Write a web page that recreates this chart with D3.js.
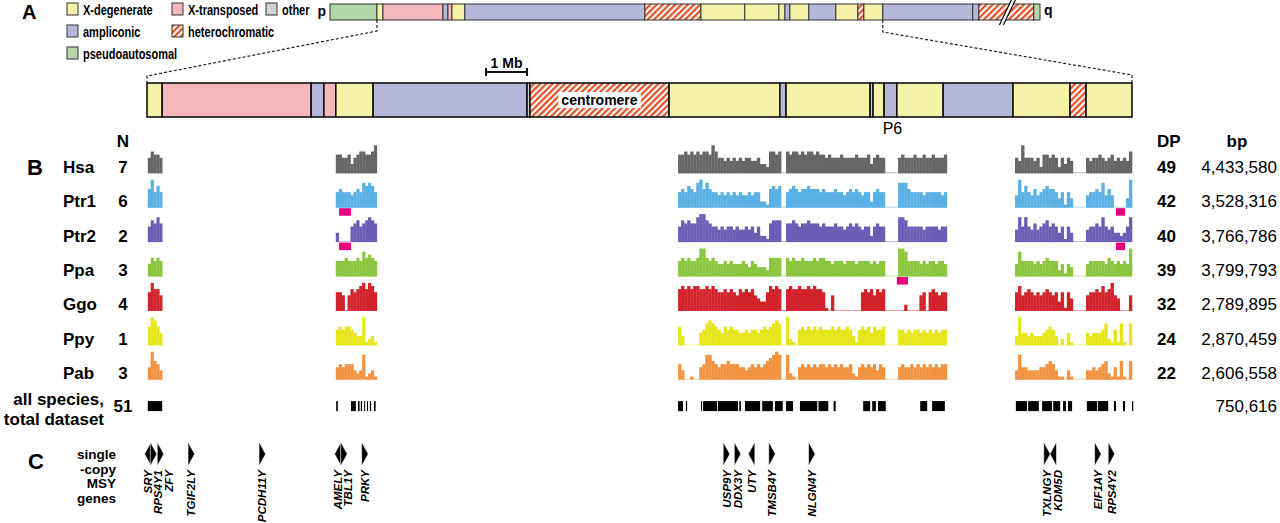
<!DOCTYPE html>
<html>
<head>
<meta charset="utf-8">
<script src="https://cdn.jsdelivr.net/npm/d3@7"></script>
<style>
body { margin: 0; background: #fff; }
svg { display: block; font-family: "Liberation Sans", Arial, Helvetica, sans-serif; }
</style>
</head>
<body>
<svg id="fig" width="1280" height="523"></svg>
<script>
// ---- data ----
const legendTypes = ["X-degenerate", "X-transposed", "other", "ampliconic", "heterochromatic", "pseudoautosomal"];

// whole Y chromosome overview (approx. Mb, heterochromatin compressed)
const ovBounds = [0, 3.77, 4.25, 9.07, 9.47, 9.79, 10.83, 25.28, 29.78, 33.3, 36.04, 36.52, 36.92, 38.44, 40.61, 42.38, 42.86, 44.38, 51.6, 52.09, 56.5, 57.0];
const ovTypes = ["pseudoautosomal", "X-degenerate", "X-transposed", "ampliconic", "X-transposed", "X-degenerate", "ampliconic",
  "heterochromatic", "X-degenerate", "X-degenerate", "X-degenerate", "ampliconic", "X-degenerate", "ampliconic", "X-degenerate",
  "heterochromatic", "X-degenerate", "ampliconic", "ampliconic", "heterochromatic", "pseudoautosomal"];
const zoomFrom = 3.77, zoomTo = 44.38, breakAt = 54.3;

// expanded MSY region (Mb)
const detBounds = [0, 0.37, 4.0, 4.31, 4.6, 5.51, 9.26, 9.33, 12.72, 15.42, 15.57, 17.62, 17.69, 17.96, 18.27, 19.4, 21.1, 22.49, 22.88, 24.0];
const detTypes = ["X-degenerate", "X-transposed", "ampliconic", "X-transposed", "X-degenerate", "ampliconic", "other",
  "heterochromatic", "X-degenerate", "ampliconic", "X-degenerate", "other", "X-degenerate", "ampliconic", "X-degenerate",
  "ampliconic", "X-degenerate", "heterochromatic", "X-degenerate"];
const scaleBarEnd = 9.26;
const p6Start = 17.96, p6End = 18.27;

// species rows
const species = ["Hsa", "Ptr1", "Ptr2", "Ppa", "Ggo", "Ppy", "Pab"];
const nSamples = [7, 6, 2, 3, 4, 1, 3];
const dpCounts = [49, 42, 40, 39, 32, 24, 22];
const bpTotals = [4433580, 3528316, 3766786, 3799793, 2789895, 2870459, 2606558];
const allN = 51, allBp = 750616;

// coverage regions (Mb); each string = binned depth, 0-9
const covStart = [0.02, 4.6, 12.94, 15.57, 18.3, 21.15, 22.88];
const covEnd = [0.37, 5.6, 15.45, 17.98, 19.49, 22.56, 24.0];

const covHsa = ["57665", "66556356776679",
  "6676767677697" + "55454545455445332" + "7767",
  "7677676776766" + "56555655556555635655",
  "5655565565565556", "549555452" + "66565" + "25354", "545565456454547"];
const covPtr1 = ["69575", "56555456587875",
  "5657658968655" + "45454545445455221" + "6767",
  "5676566766656" + "55565545656545525655",
  "8886555545555545", "495754645" + "67665" + "35153", "455658464" + "0000" + "39"];
const covPtr2 = ["57686", "3" + "0000" + "567567876",
  "5767668997655" + "45455454454535221" + "6777",
  "6676566766656" + "55565545656545525655",
  "8875555545555455", "485854645" + "67565" + "35153", "455658545" + "3323" + "58"];
const covPpa = ["46565", "55565556586765",
  "5656556996565" + "44545444543543332" + "6666",
  "6565565556566" + "55455545554555545455",
  "9985555454554554", "485555454" + "56555" + "24143", "455555465" + "4545" + "49"];
const covGgo = ["69775", "66505767897986",
  "7878788778787" + "66767657676754336" + "8787",
  "7877877878776" + "105" + "000000000" + "67675767",
  "0020000560676566", "685676565" + "67656" + "36164", "566768679" + "5400" + "05"];
const covPpy = ["69864", "565665" + "433" + "9" + "1231",
  "63" + "00000" + "45787654656554" + "454554565" + "6787",
  "9210" + "565656565556565565" + "31" + "565646556",
  "5545455454545455", "394434333" + "45653" + "02041", "4344" + "457" + "215" + "17" + "10" + "7"];
const covPab = ["49653", "454555" + "323" + "8" + "1231",
  "53" + "00100" + "45886545565554" + "434545456" + "7898",
  "8210" + "454545455454545445" + "21" + "454545354",
  "4544545454545455", "384433334" + "45653" + "11031", "3343" + "456" + "214" + "16" + "10" + "6"];
const coverage = [covHsa, covPtr1, covPtr2, covPpa, covGgo, covPpy, covPab];

// deletions (magenta boxes)
const delSpecies = ["Ptr1", "Ptr2", "Ptr1", "Ptr2", "Ppa"];
const delStart = [4.68, 4.68, 23.61, 23.61, 18.27];
const delEnd = [4.97, 4.97, 23.83, 23.83, 18.54];

// total dataset segments (Mb)
const dsStart = [0.02, 4.61, 4.97, 5.14, 5.21, 5.29, 5.36, 5.43, 5.53, 12.94, 13.13, 13.5, 13.55, 13.91, 14.43, 14.57, 14.99, 15.3,
  15.57, 15.91, 16.36, 16.73, 17.45, 17.67, 17.81, 18.84, 19.13, 21.17, 21.47, 21.81, 22.08, 22.32, 22.44, 22.9, 23.17, 23.56, 23.78, 24.0];
const dsEnd = [0.37, 4.65, 5.09, 5.18, 5.24, 5.31, 5.38, 5.46, 5.57, 13.06, 13.16, 13.52, 13.89, 14.4, 14.47, 14.94, 15.25, 15.49,
  15.74, 16.33, 16.6, 16.78, 17.62, 17.76, 18.0, 19.01, 19.44, 21.44, 21.73, 22.05, 22.25, 22.39, 22.54, 23.15, 23.42, 23.61, 23.83, 24.03];

// single-copy MSY genes
const geneNames = ["SRY", "RPS4Y1", "ZFY", "TGIF2LY", "PCDH11Y", "AMELY", "TBL1Y", "PRKY", "USP9Y", "DDX3Y", "UTY", "TMSB4Y",
  "NLGN4Y", "TXLNGY", "KDM5D", "EIF1AY", "RPS4Y2"];
const genePos = [0.02, 0.16, 0.33, 1.08, 2.81, 4.65, 4.8, 5.31, 14.12, 14.39, 14.73, 15.23, 16.2, 21.93, 22.08, 23.17, 23.5];
const geneStrand = ["-", "+", "+", "+", "+", "-", "+", "+", "+", "+", "-", "+", "+", "+", "-", "+", "+"];

// ---- styles ----
const typeColor = {
  "X-degenerate": "#f4f1a8", "X-transposed": "#f4b7bc", "other": "#d2d2d2",
  "ampliconic": "#b4b7d7", "pseudoautosomal": "#b4d6ad"
};
const speciesColor = {
  Hsa: "#666666", Ptr1: "#5bb0e4", Ptr2: "#6a5fb4", Ppa: "#8cc63f",
  Ggo: "#d2232a", Ppy: "#e6e61c", Pab: "#f29341"
};
const fillFor = t => t === "heterochromatic" ? "url(#hatch)" : typeColor[t];

// ---- scales ----
const xOv = d3.scaleLinear().domain([0, 57]).range([330, 1040]);
const xDet = d3.scaleLinear().domain([0, 24]).range([147, 1132]);
const rowY = d3.scalePoint().domain(species).range([173.3, 379.7]);
const allY = rowY("Pab") + rowY.step();
const hY = d3.scaleLinear().domain([0, 9]).range([0, 28]);

const svg = d3.select("#fig");
const defs = svg.append("defs");
const pat = defs.append("pattern").attr("id", "hatch")
  .attr("patternUnits", "userSpaceOnUse")
  .attr("width", 4.4).attr("height", 4.4)
  .attr("patternTransform", "rotate(45)");
pat.append("rect").attr("width", 4.4).attr("height", 4.4).attr("fill", "#fff");
pat.append("rect").attr("width", 2.3).attr("height", 4.4).attr("fill", "#e2562d");

function panelLetter(t, x, y, size) {
  svg.append("text").attr("x", x).attr("y", y).attr("font-size", size).attr("font-weight", "bold").text(t);
}
panelLetter("A", 22, 19, 20);
panelLetter("B", 27, 175, 22);
panelLetter("C", 28, 469, 22);

// ---- legend ----
const legCol = [67, 172, 266], legRow = [3, 25, 47];
const legPos = [[0, 0], [1, 0], [2, 0], [0, 1], [1, 1], [0, 2]];
const leg = svg.append("g").selectAll("g").data(legendTypes).join("g")
  .attr("transform", (d, i) => `translate(${legCol[legPos[i][0]]},${legRow[legPos[i][1]]})`);
leg.append("rect").attr("width", 11).attr("height", 12)
  .attr("fill", d => fillFor(d)).attr("stroke", "#333").attr("stroke-width", 1);
leg.append("text").attr("transform", "translate(16,11.5) scale(0.76,1)")
  .attr("font-size", 14.5).attr("font-weight", "bold").text(d => d);

// ---- overview chromosome ----
const ov = svg.append("g");
ov.selectAll("rect").data(ovTypes).join("rect")
  .attr("x", (d, i) => xOv(ovBounds[i]))
  .attr("width", (d, i) => xOv(ovBounds[i + 1]) - xOv(ovBounds[i]))
  .attr("y", 4).attr("height", 16)
  .attr("fill", d => fillFor(d)).attr("stroke", "#333").attr("stroke-width", 1);
ov.append("text").attr("x", xOv(0) - 4).attr("y", 16).attr("text-anchor", "end")
  .attr("font-size", 14).attr("font-weight", "bold").text("p");
ov.append("text").attr("x", xOv(57) + 4).attr("y", 15).attr("font-size", 14).attr("font-weight", "bold").text("q");
const bx = xOv(breakAt);
ov.append("path").attr("d", `M${bx - 7},25 L${bx + 5},0 L${bx + 9},0 L${bx - 3},25 Z`).attr("fill", "#fff");
ov.append("path").attr("d", `M${bx - 7},25 L${bx + 5},0 M${bx - 3},25 L${bx + 9},0`)
  .attr("stroke", "#111").attr("stroke-width", 1.3);

// zoom connectors
svg.append("path")
  .attr("d", `M${xOv(zoomFrom)},20 V31 L${xDet(0)},76 V83 M${xOv(zoomTo)},20 V32 L${xDet(24)},75 V83`)
  .attr("fill", "none").attr("stroke", "#222").attr("stroke-width", 1.2).attr("stroke-dasharray", "3,2");

// ---- expanded region ----
const det = svg.append("g");
det.selectAll("rect").data(detTypes).join("rect")
  .attr("x", (d, i) => xDet(detBounds[i]))
  .attr("width", (d, i) => xDet(detBounds[i + 1]) - xDet(detBounds[i]))
  .attr("y", 83).attr("height", 34)
  .attr("fill", d => fillFor(d)).attr("stroke", "#111").attr("stroke-width", 1.6);

const ci = detTypes.indexOf("heterochromatic");
const cx = xDet((detBounds[ci] + detBounds[ci + 1]) / 2);
const cBox = det.append("rect").attr("fill", "#fff");
const cTxt = det.append("text").attr("x", cx).attr("y", 105).attr("text-anchor", "middle")
  .attr("font-size", 14).attr("font-weight", "bold").text("centromere");
const bb = cTxt.node().getBBox();
cBox.attr("x", bb.x - 3).attr("y", bb.y).attr("width", bb.width + 6).attr("height", bb.height);

det.append("path")
  .attr("d", `M${xDet(scaleBarEnd - 1)},68 V76 M${xDet(scaleBarEnd - 1)},72 H${xDet(scaleBarEnd)} M${xDet(scaleBarEnd)},68 V76`)
  .attr("stroke", "#111").attr("stroke-width", 2).attr("fill", "none");
det.append("text").attr("x", xDet(scaleBarEnd - 0.5)).attr("y", 68).attr("text-anchor", "middle")
  .attr("font-size", 14).attr("font-weight", "bold").text("1 Mb");
det.append("text").attr("x", xDet((p6Start + p6End) / 2) + 2).attr("y", 134).attr("text-anchor", "middle")
  .attr("font-size", 16).text("P6");

// ---- coverage tracks ----
const tracks = svg.append("g");
const spans = [];
covStart.forEach((s, r) => {
  const last = spans[spans.length - 1];
  if (last && s - last[1] < 1) last[1] = covEnd[r]; else spans.push([s, covEnd[r]]);
});
species.forEach(sp => {
  tracks.append("g").selectAll("line").data(spans).join("line")
    .attr("x1", d => xDet(d[0])).attr("x2", d => xDet(d[1]))
    .attr("y1", rowY(sp) - 0.5).attr("y2", rowY(sp) - 0.5)
    .attr("stroke", speciesColor[sp]).attr("stroke-opacity", 0.45);
});
const bars = [];
coverage.forEach((regs, k) => regs.forEach((str, r) => {
  const n = str.length, a = covStart[r], b = covEnd[r];
  for (let i = 0; i < n; i++) bars.push({ sp: species[k], x0: a + (b - a) * i / n, x1: a + (b - a) * (i + 1) / n, v: +str[i] });
}));
tracks.append("g").selectAll("rect").data(bars.filter(d => d.v > 0)).join("rect")
  .attr("x", d => xDet(d.x0)).attr("width", d => xDet(d.x1) - xDet(d.x0) + 0.3)
  .attr("y", d => rowY(d.sp) - hY(d.v)).attr("height", d => hY(d.v))
  .attr("fill", d => speciesColor[d.sp]);

tracks.append("g").selectAll("rect").data(delSpecies).join("rect")
  .attr("x", (d, i) => xDet(delStart[i])).attr("width", (d, i) => xDet(delEnd[i]) - xDet(delStart[i]))
  .attr("y", d => rowY(d) + 0.5).attr("height", 7.5).attr("fill", "#e6007e");

tracks.append("g").selectAll("rect").data(dsStart).join("rect")
  .attr("x", (d, i) => xDet(d)).attr("width", (d, i) => Math.max(1, xDet(dsEnd[i]) - xDet(d)))
  .attr("y", allY - 13).attr("height", 10).attr("fill", "#000");

// row labels
const lab = svg.append("g").attr("font-size", 17).attr("font-weight", "bold");
lab.append("text").attr("x", 123).attr("y", 147).attr("text-anchor", "middle").text("N");
lab.append("text").attr("x", 1157).attr("y", 147).text("DP");
lab.append("text").attr("x", 1237).attr("y", 147).attr("text-anchor", "middle").text("bp");
lab.selectAll(".sp").data(species).join("text").attr("class", "sp")
  .attr("x", 63).attr("y", d => rowY(d) - 0.5).text(d => d);
lab.selectAll(".n").data(nSamples).join("text").attr("class", "n")
  .attr("x", 123).attr("y", (d, i) => rowY(species[i]) - 0.5).attr("text-anchor", "middle").text(d => d);
lab.selectAll(".dp").data(dpCounts).join("text").attr("class", "dp")
  .attr("x", 1157).attr("y", (d, i) => rowY(species[i]) - 0.5).text(d => d);
const fmt = d3.format(",");
svg.append("g").attr("font-size", 17).selectAll("text").data(bpTotals.concat([allBp])).join("text")
  .attr("x", 1277).attr("text-anchor", "end")
  .attr("y", (d, i) => i < species.length ? rowY(species[i]) - 0.5 : allY - 2)
  .text(d => fmt(d));
lab.append("text").attr("x", 104).attr("y", allY - 9).attr("text-anchor", "end").text("all species,");
lab.append("text").attr("x", 104).attr("y", allY + 11).attr("text-anchor", "end").text("total dataset");
lab.append("text").attr("x", 123).attr("y", allY - 2).attr("text-anchor", "middle").text(allN);

// ---- genes ----
const gl = svg.append("g").attr("font-size", 13.5).attr("font-weight", "bold").attr("text-anchor", "end");
["single", "-copy", "MSY", "genes"].forEach((t, i) => gl.append("text").attr("x", 116).attr("y", 459 + i * 14.5).text(t));

const gy0 = 442, gy1 = 466, gw = 6.6;
const genes = svg.append("g");
genes.selectAll("path").data(geneNames).join("path")
  .attr("d", (d, i) => {
    const x = xDet(genePos[i]), s = geneStrand[i] === "+" ? 1 : -1;
    return `M${x - s * gw / 2},${gy0} L${x + s * gw / 2},${(gy0 + gy1) / 2} L${x - s * gw / 2},${gy1} Z`;
  })
  .attr("fill", "#000").attr("stroke", "#fff").attr("stroke-width", 0.6);

const labelX = [];
genePos.forEach((p, i) => {
  const x = xDet(p);
  labelX.push(i > 0 ? Math.max(x, labelX[i - 1] + 10.5) : x);
});
genes.selectAll("text").data(geneNames).join("text")
  .attr("transform", (d, i) => `translate(${labelX[i]},470) rotate(-90)`)
  .attr("dy", "0.36em").attr("text-anchor", "end")
  .attr("font-size", 11.5).attr("font-weight", "bold").attr("font-style", "italic")
  .text(d => d);
</script>
</body>
</html>
